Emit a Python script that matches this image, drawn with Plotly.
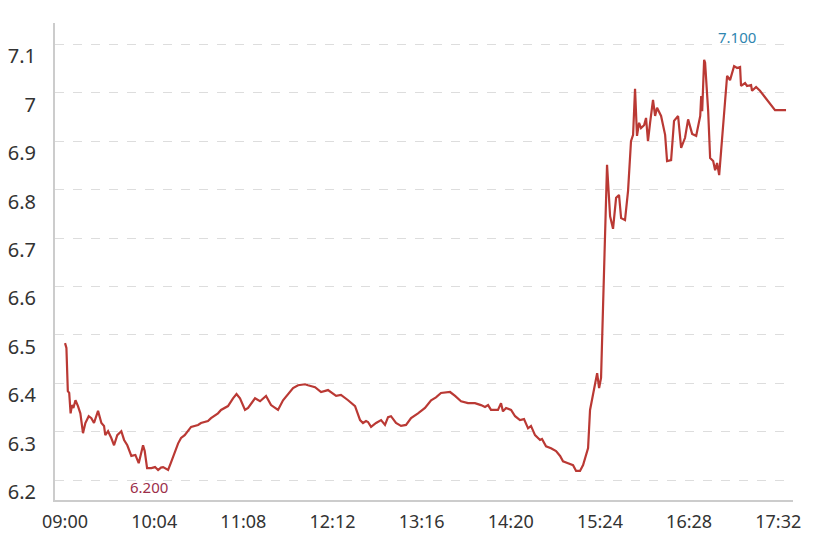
import plotly.graph_objects as go

# minutes after 09:00
minutes = [
    0, 1, 2, 3, 4, 5, 6, 7.5, 9.3, 11.0, 12.9, 14.6, 17.0, 18.9, 20.8, 23.7, 26.1, 28.0, 28.9, 30.9,
    33.2, 35.2, 37.5, 40.4, 42.4, 44.7, 47.6, 50.5, 52.9, 56.0, 57.2, 58.9, 62.0, 64.6, 66.8, 68.9,
    70.4, 74.0, 75.9, 78.3, 81.2,
    83.3, 85.9, 90.5, 95.5, 97.6, 102.6, 104.8, 109.8, 112.0, 117.0, 120.6, 123.1, 125.6, 129.2,
    131.4, 136.4, 140.0, 144.3, 147.9, 152.9, 156.5, 160.1, 163.7, 167.3, 172.3, 174.4, 179.5,
    183.8, 188.8, 194.6, 198.1, 203.2, 208.2, 211.8, 213.9, 216.1, 217.5,
    219.7, 223.3, 226.9, 229.7, 231.9, 234.0, 237.6, 241.2, 244.8, 248.4, 253.4, 258.4, 262.8,
    266.3, 269.9, 276.4, 280.0, 284.3, 289.3, 294.3, 298.6, 301.5, 303.7, 305.8, 310.8, 313.0,
    314.4, 316.6, 320.2, 323.1, 326.6, 329.5, 332.4, 334.5, 337.4, 341.0, 342.4, 345.3, 348.9,
    352.5, 355.4, 357.5, 361.1, 364.7, 366.9, 369.7, 371.9, 374.0,
    375.5, 376.9, 379.1, 382.0, 383.4, 384.8, 386.2, 387.7, 389.1, 391.3, 393.4, 395.6, 397.7,
    399.2, 402.0, 404.2, 406.3, 407.8, 409.2, 410.6, 412.1, 413.5, 415.7, 417.1, 418.5, 420.0,
    422.1, 423.6, 425.0, 427.9, 430.8, 432.2, 435.1, 437.2, 440.1, 442.3, 445.1, 447.3,
    450.2, 453.1, 456.0, 456.7, 457.4, 458.8, 459.5, 461.7, 463.1, 465.3, 466.7, 468.1, 469.6,
    471.0, 473.1, 475.3, 477.4, 480.3, 482.5, 484.6, 485.3, 488.2, 489.6, 492.5, 493.2, 496.1,
    498.9, 509.7, 517.6,
]
prices = [
    6.483, 6.473, 6.384, 6.380, 6.338, 6.355, 6.349, 6.365, 6.353, 6.338, 6.297, 6.318, 6.332, 6.328,
    6.318, 6.343, 6.318, 6.312, 6.293, 6.301, 6.287, 6.272, 6.293, 6.301, 6.283, 6.272, 6.250, 6.252,
    6.235, 6.272, 6.260, 6.225, 6.225, 6.227, 6.221, 6.226, 6.227, 6.221, 6.235, 6.254, 6.276,
    6.287, 6.293, 6.310, 6.314, 6.318, 6.322, 6.328, 6.338, 6.345, 6.353, 6.369, 6.378, 6.369, 6.345,
    6.349, 6.369, 6.363, 6.374, 6.355, 6.345, 6.365, 6.378, 6.390, 6.396, 6.398, 6.396, 6.392,
    6.382, 6.386, 6.374, 6.376, 6.365, 6.353, 6.324, 6.318, 6.322, 6.320,
    6.310, 6.318, 6.324, 6.314, 6.330, 6.332, 6.318, 6.312, 6.314, 6.328, 6.338, 6.349, 6.365,
    6.371, 6.380, 6.382, 6.374, 6.363, 6.359, 6.359, 6.355, 6.351, 6.355, 6.345, 6.345, 6.359,
    6.342, 6.349, 6.345, 6.332, 6.324, 6.326, 6.307, 6.312, 6.293, 6.283, 6.285, 6.270, 6.266,
    6.260, 6.250, 6.239, 6.235, 6.231, 6.219, 6.219, 6.231, 6.250,
    6.266, 6.345, 6.378, 6.421, 6.390, 6.411, 6.555, 6.700, 6.851, 6.745, 6.719, 6.783, 6.789,
    6.741, 6.737, 6.798, 6.900, 6.913, 7.008, 6.911, 6.938, 6.927, 6.933, 6.948, 6.900, 6.938,
    6.985, 6.952, 6.969, 6.952, 6.913, 6.859, 6.861, 6.942, 6.952, 6.886, 6.907, 6.945,
    6.915, 6.911, 6.952, 6.993, 6.962, 7.068, 7.062, 6.962, 6.865, 6.859, 6.840, 6.855, 6.830,
    6.880, 6.948, 7.035, 7.026, 7.055, 7.051, 7.053, 7.014, 7.020, 7.014, 7.016, 7.004, 7.012,
    7.004, 6.964, 6.964,
]

x_tick_values = [0, 64, 128, 192, 256, 320, 384, 448, 512]
x_tick_labels = ["09:00", "10:04", "11:08", "12:12", "13:16", "14:20", "15:24", "16:28", "17:32"]
y_tick_values = [6.2, 6.3, 6.4, 6.5, 6.6, 6.7, 6.8, 6.9, 7.0, 7.1]
y_tick_labels = ["6.2", "6.3", "6.4", "6.5", "6.6", "6.7", "6.8", "6.9", "7", "7.1"]

max_label, max_minute, max_value = "7.100", 482.5, 7.1
min_label, min_minute, min_value = "6.200", 60.5, 6.2

fig = go.Figure()
fig.add_trace(go.Scatter(
    x=minutes, y=prices, mode="lines",
    line=dict(color="#ba3934", width=2.2),
    hoverinfo="skip", showlegend=False,
))

fig.add_annotation(x=max_minute, y=max_value, text=max_label, showarrow=False,
                   yshift=7, font=dict(family="Noto Sans", size=15, color="#2f86b0"))
fig.add_annotation(x=min_minute, y=min_value, text=min_label, showarrow=False,
                   yshift=-7, font=dict(family="Noto Sans", size=15, color="#9c2f4a"))

fig.update_layout(
    width=819, height=536,
    margin=dict(l=47, r=34, t=15, b=44),
    paper_bgcolor="white", plot_bgcolor="white",
    showlegend=False,
    font=dict(family="Noto Sans", color="#333333"),
)
fig.update_xaxes(
    range=[-7.2, 522.6], automargin=False,
    tickvals=x_tick_values, ticktext=x_tick_labels,
    showgrid=False, zeroline=False,
    showline=True, linecolor="#cccccc", linewidth=2,
    ticks="", ticklabelstandoff=4,
    tickfont=dict(family="Noto Sans", size=18, color="#333333"),
)
fig.update_yaxes(
    range=[6.159, 7.144], automargin=False,
    tickvals=y_tick_values, ticktext=y_tick_labels,
    showgrid=True, gridcolor="#dddddd", gridwidth=1, griddash="dash",
    zeroline=False,
    showline=True, linecolor="#cccccc", linewidth=2,
    ticks="", ticklabelstandoff=13, ticklabelshift=12,
    tickfont=dict(family="Noto Sans", size=20, color="#333333"),
)

fig.write_html("out.html")
